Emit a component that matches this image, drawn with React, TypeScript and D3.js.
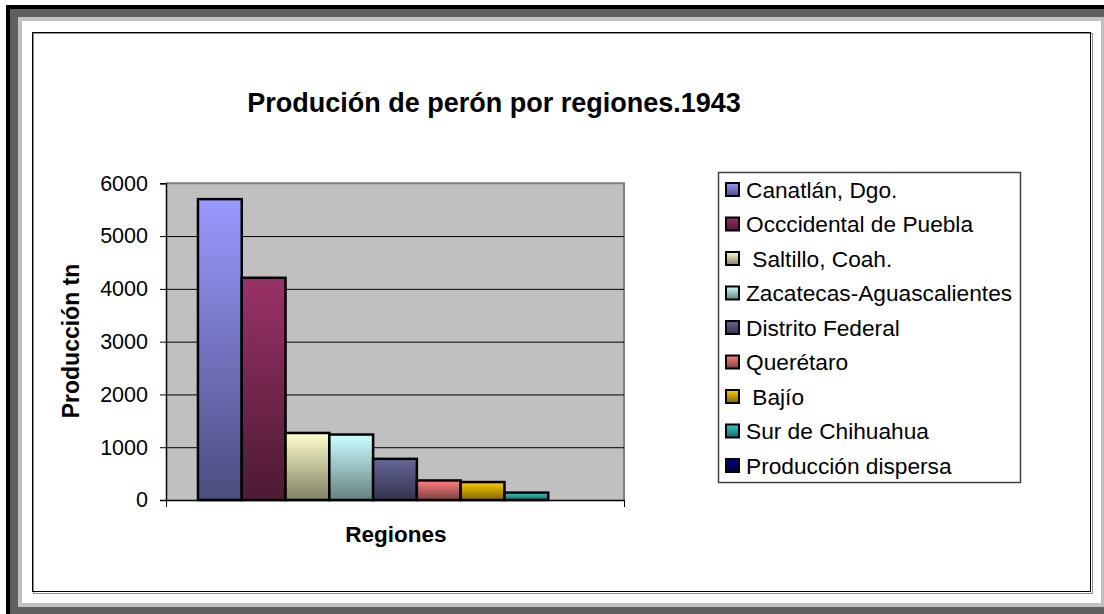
import React, { useEffect, useRef } from "react";
import * as d3 from "d3";

// region names as they appear in the legend (leading spaces are in the original)
const regions = [
  "Canatlán, Dgo.",
  "Occcidental de Puebla",
  " Saltillo, Coah.",
  "Zacatecas-Aguascalientes",
  "Distrito Federal",
  "Querétaro",
  " Bajío",
  "Sur de Chihuahua",
  "Producción dispersa",
];

// production in tonnes, 1943
const production = [5700, 4210, 1270, 1240, 780, 370, 340, 140, 0];

const barColors = [
  "#9999FF",
  "#993366",
  "#FFFFCC",
  "#CCFFFF",
  "#666699",
  "#FF8080",
  "#FFCC00",
  "#33CCCC",
  "#000080",
];

const yTicks = [0, 1000, 2000, 3000, 4000, 5000, 6000];

const FONT = "'Liberation Sans', Arial, sans-serif";

export default function App() {
  const ref = useRef<SVGSVGElement>(null);

  useEffect(() => {
    const svg = d3.select(ref.current);
    svg.selectAll("*").remove();

    const W = 1104,
      H = 614;

    // picture frame (black / dark gray / light gray bands)
    svg.append("rect").attr("x", 0).attr("y", 0).attr("width", W).attr("height", H).attr("fill", "#fff");
    svg.append("rect").attr("x", 6).attr("y", 5).attr("width", 1111).attr("height", 614).attr("fill", "#000");
    svg.append("rect").attr("x", 10).attr("y", 9).attr("width", 1103).attr("height", 606).attr("fill", "#606060");
    svg.append("rect").attr("x", 18).attr("y", 17).attr("width", 1087).attr("height", 590).attr("fill", "#C0C0C0");
    svg.append("rect").attr("x", 22).attr("y", 21).attr("width", 1079).attr("height", 582).attr("fill", "#fff");

    // chart area box with a small shadow
    svg.append("rect").attr("x", 33.5).attr("y", 33.5).attr("width", 1059).attr("height", 560)
      .attr("fill", "none").attr("stroke", "#909090").attr("stroke-width", 1);
    svg.append("rect").attr("x", 32.5).attr("y", 32.5).attr("width", 1058).attr("height", 559)
      .attr("fill", "none").attr("stroke", "#000").attr("stroke-width", 1);

    const plot = { left: 166, right: 624, top: 183.3, bottom: 500 };

    const x = d3.scaleBand<string>()
      .domain(regions)
      .range([plot.left, plot.right])
      .paddingInner(0)
      .paddingOuter(0.73);

    const y = d3.scaleLinear()
      .domain([0, 6000])
      .range([plot.bottom, plot.top]);

    // gradients: colour on top, half as bright at the bottom
    const defs = svg.append("defs");
    barColors.forEach((c, i) => {
      const g = defs.append("linearGradient")
        .attr("id", "grad" + i)
        .attr("x1", 0).attr("y1", 0).attr("x2", 0).attr("y2", 1);
      g.append("stop").attr("offset", "0%").attr("stop-color", c);
      g.append("stop").attr("offset", "100%").attr("stop-color", d3.interpolateRgb(c, "#000")(0.5));
    });

    // plot area
    svg.append("rect")
      .attr("x", plot.left).attr("y", plot.top)
      .attr("width", plot.right - plot.left).attr("height", plot.bottom - plot.top)
      .attr("fill", "#C0C0C0");
    svg.append("path")
      .attr("d", `M${plot.left},${plot.top}H${plot.right}V${plot.bottom}`)
      .attr("fill", "none").attr("stroke", "#808080").attr("stroke-width", 2);

    // gridlines
    const grid = svg.append("g")
      .attr("transform", `translate(${plot.left},0)`)
      .call(d3.axisLeft(y)
        .tickValues(yTicks.filter(t => t > 0 && t < 6000))
        .tickSize(-(plot.right - plot.left))
        .tickFormat(() => ""));
    grid.select(".domain").remove();
    grid.selectAll("line").attr("stroke", "#000").attr("stroke-width", 1);

    // bars
    svg.append("g")
      .selectAll("rect")
      .data(production)
      .enter()
      .append("rect")
      .attr("x", (d, i) => x(regions[i])!)
      .attr("y", d => y(d))
      .attr("width", x.bandwidth())
      .attr("height", d => y(0) - y(d))
      .attr("fill", (d, i) => `url(#grad${i})`)
      .attr("stroke", "#000")
      .attr("stroke-width", 2.5);

    // y axis
    const yAxis = svg.append("g")
      .attr("transform", `translate(${plot.left},0)`)
      .call(d3.axisLeft(y).tickValues(yTicks).tickSize(6).tickPadding(12).tickFormat(d3.format("d")));
    yAxis.select(".domain").attr("stroke", "#000").attr("stroke-width", 1.5);
    yAxis.selectAll("line").attr("stroke", "#000");
    yAxis.selectAll("text")
      .attr("font-family", FONT)
      .attr("font-size", 21.5)
      .attr("fill", "#000");

    // x axis: one category, ticks at both ends
    const xs = d3.scaleLinear().domain([0, 1]).range([plot.left, plot.right]);
    const xAxis = svg.append("g")
      .attr("transform", `translate(0,${plot.bottom})`)
      .call(d3.axisBottom(xs).tickValues([0, 1]).tickSize(7).tickSizeOuter(0).tickFormat(() => ""));
    xAxis.select(".domain").attr("stroke", "#000").attr("stroke-width", 1.5);
    xAxis.selectAll("line").attr("stroke", "#000");

    // titles
    svg.append("text")
      .attr("x", 494).attr("y", 112)
      .attr("text-anchor", "middle")
      .attr("font-family", FONT).attr("font-size", 27).attr("font-weight", "bold")
      .text("Produción de perón por regiones.1943");

    svg.append("text")
      .attr("x", 396).attr("y", 542)
      .attr("text-anchor", "middle")
      .attr("font-family", FONT).attr("font-size", 22.5).attr("font-weight", "bold")
      .text("Regiones");

    svg.append("text")
      .attr("transform", "translate(79,341) rotate(-90)")
      .attr("text-anchor", "middle")
      .attr("font-family", FONT).attr("font-size", 23).attr("font-weight", "bold")
      .text("Producción tn");

    // legend
    svg.append("rect")
      .attr("x", 718.5).attr("y", 172.5).attr("width", 302).attr("height", 310)
      .attr("fill", "#fff").attr("stroke", "#404040").attr("stroke-width", 1.5);

    const ly = d3.scaleLinear().domain([0, regions.length - 1]).range([189.5, 465.5]);

    const items = svg.append("g")
      .selectAll("g")
      .data(regions)
      .enter()
      .append("g")
      .attr("transform", (d, i) => `translate(0,${ly(i)})`);

    items.append("rect")
      .attr("x", 726).attr("y", -6.5)
      .attr("width", 13).attr("height", 13)
      .attr("fill", (d, i) => `url(#grad${i})`)
      .attr("stroke", "#000").attr("stroke-width", 2);

    items.append("text")
      .attr("x", 746)
      .attr("dy", "0.36em")
      .attr("font-family", FONT).attr("font-size", 22.7)
      .style("white-space", "pre")
      .text(d => d);
  }, []);

  return (
    <svg
      ref={ref}
      width={1104}
      height={614}
      style={{ position: "absolute", left: 0, top: 0 }}
    />
  );
}
